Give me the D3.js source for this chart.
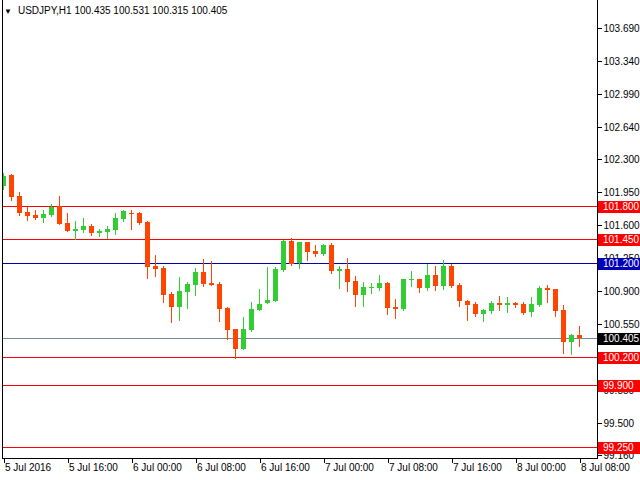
<!DOCTYPE html>
<html><head><meta charset="utf-8">
<script src="https://cdn.jsdelivr.net/npm/d3@7/dist/d3.min.js"></script>
<style>html,body{margin:0;padding:0;background:#fff;}svg{display:block;} line,rect{shape-rendering:crispEdges;}</style>
</head><body><svg id="c" width="640" height="480"></svg>
<script>
const symbol = "USDJPY,H1";
const openV  = [102.017,102.130,101.908,101.738,101.706,101.674,101.706,101.798,101.621,101.540,101.547,101.589,101.515,101.526,101.547,101.664,101.724,101.727,101.632,101.165,101.144,100.868,100.730,100.889,100.963,101.101,100.985,100.974,100.720,100.497,100.285,100.486,100.698,100.773,100.794,101.122,101.430,101.197,101.420,101.324,101.292,101.388,101.112,101.133,101.006,100.857,100.932,100.932,100.985,100.730,100.709,101.017,101.027,100.932,101.070,100.953,101.165,100.963,100.794,100.762,100.656,100.688,100.773,100.751,100.773,100.762,100.677,100.751,100.932,100.921,100.698,100.359,100.435];
const highV  = [102.149,102.141,101.950,101.794,101.759,101.759,101.823,101.908,101.727,101.642,101.674,101.611,101.558,101.589,101.727,101.759,101.759,101.738,101.642,101.285,101.165,100.889,101.048,100.995,101.144,101.239,101.218,100.995,100.730,100.500,100.624,100.783,100.921,101.154,101.154,101.441,101.462,101.420,101.422,101.388,101.399,101.409,101.165,101.250,101.059,100.995,100.985,101.070,100.995,100.815,101.027,101.112,101.030,101.186,101.165,101.229,101.186,100.985,100.804,100.783,100.709,100.794,100.847,100.836,100.783,100.783,100.836,100.953,100.963,100.924,100.751,100.444,100.531];
const lowV   = [101.982,101.868,101.706,101.653,101.664,101.632,101.696,101.610,101.537,101.455,101.526,101.497,101.483,101.462,101.504,101.642,101.558,101.611,101.038,101.059,100.783,100.571,100.592,100.720,100.857,100.953,100.963,100.582,100.391,100.189,100.280,100.480,100.695,100.770,100.790,101.112,101.175,101.144,101.229,101.271,101.281,101.091,100.932,100.900,100.741,100.741,100.879,100.910,100.656,100.613,100.698,100.953,100.889,100.910,100.910,100.921,100.942,100.741,100.592,100.635,100.582,100.667,100.698,100.677,100.730,100.656,100.635,100.741,100.783,100.635,100.242,100.232,100.315];
const closeV = [102.120,101.900,101.731,101.696,101.674,101.717,101.794,101.614,101.540,101.558,101.589,101.515,101.537,101.558,101.674,101.749,101.717,101.621,101.154,101.133,100.857,100.730,100.900,100.974,101.101,100.974,100.967,100.709,100.486,100.285,100.497,100.709,100.762,100.804,101.133,101.430,101.186,101.418,101.314,101.292,101.388,101.112,101.133,100.995,100.857,100.942,100.942,100.985,100.720,100.709,101.025,101.027,100.932,101.070,100.953,101.165,100.953,100.794,100.751,100.656,100.698,100.773,100.751,100.773,100.751,100.667,100.762,100.932,100.910,100.688,100.359,100.433,100.405];
const timeLabels = ["5 Jul 2016","5 Jul 16:00","6 Jul 00:00","6 Jul 08:00","6 Jul 16:00","7 Jul 00:00","7 Jul 08:00","7 Jul 16:00","8 Jul 00:00","8 Jul 08:00"];
const timeLabelIndex = [0,8,16,24,32,40,48,56,64,72];
const priceTicks = [103.690,103.340,102.990,102.640,102.300,101.950,101.600,101.250,100.900,100.550,100.200,99.850,99.500,99.160];
const levelPrices = [101.800,101.450,101.200,100.200,99.900,99.250];
const levelKinds  = ["res","res","pivot","sup","sup","sup"];
const lastPrice = 100.405;

const svg = d3.select("#c");
const font = "Liberation Sans, Arial, sans-serif";
const L = 2, R = 597, T = 0, B = 458;
const x = d3.scaleLinear().domain([0, 72]).range([3.5, 579.5]);
const y = d3.scaleLinear().domain([99.16, 103.69]).range([455, 28]);
const py = v => Math.round(y(v));

svg.append("defs").append("clipPath").attr("id","clip")
  .append("rect").attr("x", L+1).attr("y", T).attr("width", R-L-1).attr("height", B-T);

const plot = svg.append("g").attr("clip-path","url(#clip)");
const colorOf = k => k === "pivot" ? "#0000b4" : "#ff0000";

// horizontal level lines
levelPrices.forEach((p, i) => {
  plot.append("line")
    .attr("x1", L).attr("x2", R)
    .attr("y1", py(p)+0.5).attr("y2", py(p)+0.5)
    .style("stroke", colorOf(levelKinds[i])).style("stroke-width", "1px");
});
plot.append("line").attr("x1", L).attr("x2", R)
  .attr("y1", py(lastPrice)+0.5).attr("y2", py(lastPrice)+0.5)
  .style("stroke", "#778899").style("stroke-width", "1px");

// candles
const data = openV.map((o,i) => ({i, o, h: highV[i], l: lowV[i], c: closeV[i]}));
const up = "#32cd32", down = "#ff4500";
const cg = plot.selectAll("g.cd").data(data).join("g").attr("class","cd");
cg.append("line")
  .attr("x1", d => x(d.i)).attr("x2", d => x(d.i))
  .attr("y1", d => py(d.h)).attr("y2", d => py(d.l)+1)
  .style("stroke", d => d.c >= d.o ? up : down).style("stroke-width", "1px");
cg.append("rect")
  .attr("x", d => x(d.i) - 2.5).attr("width", 5)
  .attr("y", d => py(Math.max(d.o, d.c)))
  .attr("height", d => Math.max(1, py(Math.min(d.o, d.c)) - py(Math.max(d.o, d.c))))
  .style("fill", d => d.c >= d.o ? up : down);

// frame
svg.append("line").attr("x1", L+0.5).attr("x2", L+0.5).attr("y1", T).attr("y2", B+1).style("stroke","#000");
svg.append("line").attr("x1", R+0.5).attr("x2", R+0.5).attr("y1", T).attr("y2", B+1).style("stroke","#000");
svg.append("line").attr("x1", L).attr("x2", R+1).attr("y1", B+0.5).attr("y2", B+0.5).style("stroke","#000");

// right axis
const yAxis = d3.axisRight(y).tickValues(priceTicks).tickSize(4).tickPadding(2).tickFormat(d3.format(".3f"));
const ya = svg.append("g").attr("transform", `translate(${R+0.5},0)`).call(yAxis);
ya.select(".domain").remove();
ya.selectAll(".tick").attr("transform", d => `translate(0,${py(d)+0.5})`);
ya.selectAll("text").attr("font-family", font).attr("font-size", 10).attr("fill","#000").attr("x", 6);
ya.selectAll("line").style("stroke","#000");

// bottom axis
const xAxis = d3.axisBottom(x).tickValues(timeLabelIndex).tickSize(4).tickPadding(1)
  .tickFormat((d,i) => timeLabels[i]);
const xa = svg.append("g").attr("transform", `translate(0,${B+0.5})`).call(xAxis);
xa.select(".domain").remove();
xa.selectAll("text").attr("font-family", font).attr("font-size", 10).attr("fill","#000")
  .attr("text-anchor","start").attr("x", 1);
xa.selectAll("line").style("stroke","#000");

// level price boxes
const boxes = levelPrices.map((p,i) => ({p, fill: colorOf(levelKinds[i])}));
boxes.push({p: lastPrice, fill: "#000"});
const bg = svg.selectAll("g.box").data(boxes).join("g").attr("class","box");
bg.append("rect").attr("x", R+1).attr("width", 640-R-1)
  .attr("y", d => py(d.p) - 5).attr("height", 12).style("fill", d => d.fill);
bg.append("text").attr("x", R+6).attr("y", d => py(d.p) + 0.5).attr("dy","0.35em")
  .attr("font-family", font).attr("font-size", 10).style("fill","#fff")
  .text(d => d3.format(".3f")(d.p));

// title
const title = svg.append("text").attr("x", 4).attr("y", 14)
  .attr("font-family", font).attr("font-size", 10).attr("fill","#000");
title.append("tspan").attr("font-size", 8).text("▼");
title.append("tspan").attr("dx", 6).text(symbol + "  " + [openV[72], highV[72], lowV[72], closeV[72]].map(d3.format(".3f")).join(" "));
</script></body></html>
